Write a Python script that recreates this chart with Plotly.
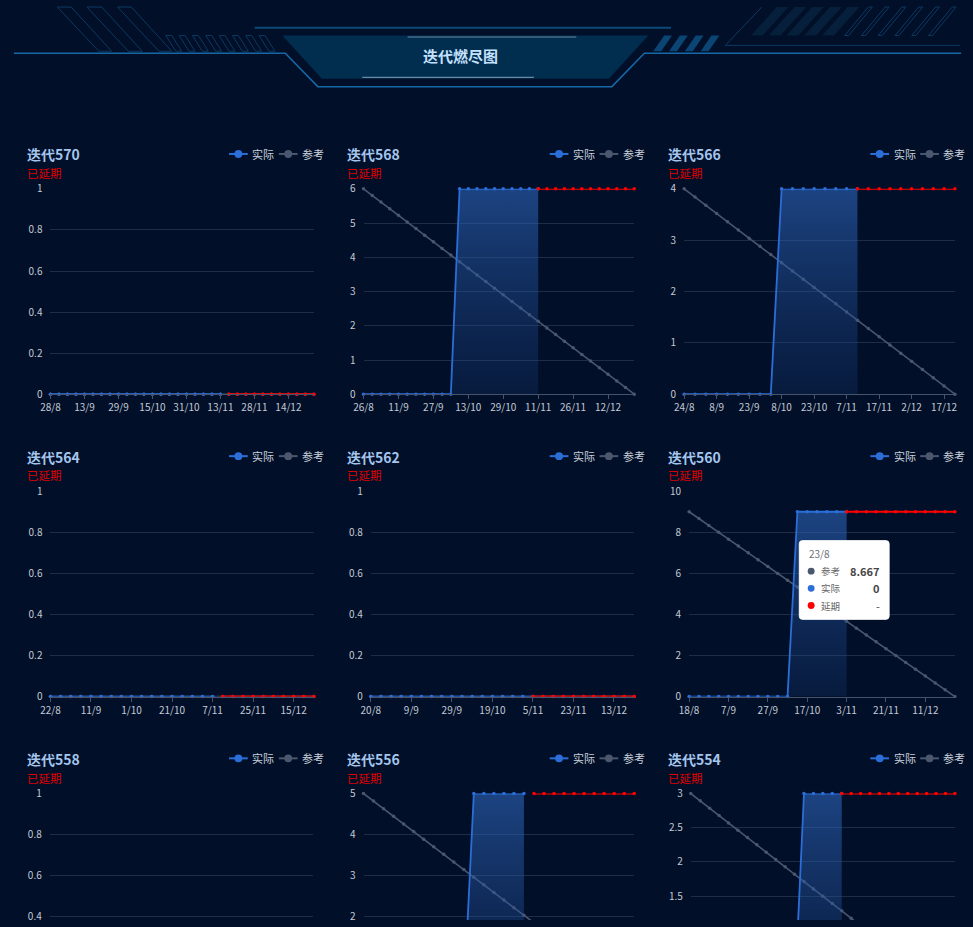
import plotly.graph_objects as go

W, H = 973, 927
BG = "#010f28"
FONT = "Noto Sans CJK SC"
BLUE = "#2b6ed8"
GRAY = "#4a576f"
RED = "#ff0000"
GRID = "#1e2d46"
TICK = "#c3cad6"
N = None

chart_titles = ["迭代570", "迭代568", "迭代566", "迭代564", "迭代562",
                "迭代560", "迭代558", "迭代556", "迭代554"]
status_label = "已延期"
legend_labels = ["实际", "参考"]
tooltip_labels = ["参考", "实际", "延期"]
tooltip_date = "23/8"

# ---- 迭代570 ----
xlabels_570 = ["28/8", "13/9", "29/9", "15/10", "31/10", "13/11", "28/11", "14/12"]
ref_570 = [0, 0, 0, 0, 0, 0, 0, 0, 0, 0, 0, 0, 0, 0, 0, 0,
           0, 0, 0, 0, 0, 0, 0, 0, 0, 0, 0, 0, 0, 0, 0, 0]
act_570 = [0] * 21 + [N] * 11
del_570 = [N] * 21 + [0] * 11

# ---- 迭代568 ----
xlabels_568 = ["26/8", "11/9", "27/9", "13/10", "29/10", "11/11", "26/11", "12/12"]
ref_568 = [6, 5.806, 5.613, 5.419, 5.226, 5.032, 4.839, 4.645, 4.452, 4.258,
           4.065, 3.871, 3.677, 3.484, 3.290, 3.097, 2.903, 2.710, 2.516, 2.323,
           2.129, 1.935, 1.742, 1.548, 1.355, 1.161, 0.968, 0.774, 0.581, 0.387,
           0.194, 0]
act_568 = [0] * 11 + [6] * 10 + [N] * 11
del_568 = [N] * 20 + [6] * 12

# ---- 迭代566 ----
xlabels_566 = ["24/8", "8/9", "23/9", "8/10", "23/10", "7/11", "17/11", "2/12", "17/12"]
ref_566 = [4, 3.84, 3.68, 3.52, 3.36, 3.2, 3.04, 2.88, 2.72, 2.56, 2.4, 2.24, 2.08,
           1.92, 1.76, 1.6, 1.44, 1.28, 1.12, 0.96, 0.8, 0.64, 0.48, 0.32, 0.16, 0]
act_566 = [0] * 9 + [4] * 8 + [N] * 9
del_566 = [N] * 16 + [4] * 10

# ---- 迭代564 ----
xlabels_564 = ["22/8", "11/9", "1/10", "21/10", "7/11", "25/11", "15/12"]
ref_564 = [0, 0, 0, 0, 0, 0, 0, 0, 0, 0, 0, 0, 0, 0,
           0, 0, 0, 0, 0, 0, 0, 0, 0, 0, 0, 0, 0]
act_564 = [0] * 17 + [N] * 10
del_564 = [N] * 17 + [0] * 10

# ---- 迭代562 ----
xlabels_562 = ["20/8", "9/9", "29/9", "19/10", "5/11", "23/11", "13/12"]
ref_562 = [0, 0, 0, 0, 0, 0, 0, 0, 0, 0, 0, 0, 0, 0,
           0, 0, 0, 0, 0, 0, 0, 0, 0, 0, 0, 0, 0]
act_562 = [0] * 17 + [N] * 10
del_562 = [N] * 16 + [0] * 11

# ---- 迭代560 ----
xlabels_560 = ["18/8", "7/9", "27/9", "17/10", "3/11", "21/11", "11/12"]
ref_560 = [9, 8.667, 8.333, 8, 7.667, 7.333, 7, 6.667, 6.333, 6, 5.667, 5.333,
           5, 4.667, 4.333, 4, 3.667, 3.333, 3, 2.667, 2.333, 2, 1.667, 1.333,
           1, 0.667, 0.333, 0]
act_560 = [0] * 11 + [9] * 6 + [N] * 11
del_560 = [N] * 16 + [9] * 12

# ---- 迭代558 ----
xlabels_558 = []
ref_558 = [0, 0, 0, 0, 0, 0, 0, 0, 0, 0, 0, 0, 0, 0,
           0, 0, 0, 0, 0, 0, 0, 0, 0, 0, 0, 0, 0]
act_558 = [0] * 17 + [N] * 10
del_558 = [N] * 17 + [0] * 10

# ---- 迭代556 ----
xlabels_556 = []
ref_556 = [5, 4.815, 4.630, 4.444, 4.259, 4.074, 3.889, 3.704, 3.519, 3.333,
           3.148, 2.963, 2.778, 2.593, 2.407, 2.222, 2.037, 1.852, 1.667, 1.481,
           1.296, 1.111, 0.926, 0.741, 0.556, 0.370, 0.185, 0]
act_556 = [0] * 11 + [5] * 6 + [N] * 11
del_556 = [N] * 17 + [5] * 11

# ---- 迭代554 ----
xlabels_554 = []
ref_554 = [3, 2.893, 2.786, 2.679, 2.571, 2.464, 2.357, 2.25, 2.143, 2.036,
           1.929, 1.821, 1.714, 1.607, 1.5, 1.393, 1.286, 1.179, 1.071, 0.964,
           0.857, 0.75, 0.643, 0.536, 0.429, 0.321, 0.214, 0.107, 0]
act_554 = [0] * 12 + [3] * 5 + [N] * 12
del_554 = [N] * 16 + [3] * 13

charts = [
    dict(ref=ref_570, act=act_570, dly=del_570, labels=xlabels_570, step=4, ymax=1, dtick=0.2),
    dict(ref=ref_568, act=act_568, dly=del_568, labels=xlabels_568, step=4, ymax=6, dtick=1),
    dict(ref=ref_566, act=act_566, dly=del_566, labels=xlabels_566, step=3, ymax=4, dtick=1),
    dict(ref=ref_564, act=act_564, dly=del_564, labels=xlabels_564, step=4, ymax=1, dtick=0.2),
    dict(ref=ref_562, act=act_562, dly=del_562, labels=xlabels_562, step=4, ymax=1, dtick=0.2),
    dict(ref=ref_560, act=act_560, dly=del_560, labels=xlabels_560, step=4, ymax=10, dtick=2),
    dict(ref=ref_558, act=act_558, dly=del_558, labels=xlabels_558, step=4, ymax=1, dtick=0.2),
    dict(ref=ref_556, act=act_556, dly=del_556, labels=xlabels_556, step=4, ymax=5, dtick=1),
    dict(ref=ref_554, act=act_554, dly=del_554, labels=xlabels_554, step=4, ymax=3, dtick=0.5),
]

# ---------------- layout geometry (pixels) ----------------
panel_off = [(0, 0), (325, 0), (650, 0),
             (0, 307.5), (325, 307.5), (650, 307.5),
             (0, 615), (325, 615), (650, 615)]
plot_x = [(41, 308), (358.3, 632.7), (683.3, 957.7),
          (41, 308), (365.7, 632.7), (688.3, 957.7),
          (40.3, 307), (358.3, 632.7), (690, 957.7)]
row_top = [183, 490.7, 798.3]
PLOT_H = 209.0


def px(x):
    return x / W


def py(y):
    return 1 - y / H


fig = go.Figure()
layout_axes = {}
shapes = []
annotations = []

for i, c in enumerate(charts):
    row = i // 3
    sfx = "" if i == 0 else str(i + 1)
    xs = list(range(len(c["ref"])))
    top = row_top[row]
    bottom = min(top + PLOT_H, H)
    ymin = c["ymax"] - c["ymax"] * (bottom - top) / PLOT_H
    common = dict(xaxis="x" + sfx, yaxis="y" + sfx, showlegend=False,
                  hoverinfo="skip", cliponaxis=False)
    fig.add_trace(go.Scatter(x=xs, y=c["ref"], mode="lines+markers",
                             line=dict(color=GRAY, width=1.6),
                             marker=dict(color=GRAY, size=3.5), **common))
    fig.add_trace(go.Scatter(x=xs, y=c["act"], mode="lines+markers",
                             line=dict(color=BLUE, width=1.8),
                             marker=dict(color=BLUE, size=3.5),
                             fill="tozeroy",
                             fillgradient=dict(type="vertical",
                                               colorscale=[[0, "rgba(30,70,140,0.22)"],
                                                           [1, "rgba(45,100,185,0.62)"]]),
                             **common))
    fig.add_trace(go.Scatter(x=xs, y=c["dly"], mode="lines+markers",
                             line=dict(color=RED, width=2),
                             marker=dict(color=RED, size=3.5), **common))

    x0, x1 = plot_x[i]
    is_bottom = row == 2
    layout_axes["xaxis" + sfx] = dict(
        domain=[px(x0), px(x1)], anchor="y" + sfx,
        range=[0, len(xs) - 1], showgrid=False, zeroline=False,
        showline=not is_bottom, linecolor="#46536b", linewidth=1,
        ticks="" if is_bottom else "outside", ticklen=4, tickcolor="#46536b",
        tickvals=[k * c["step"] for k in range(len(c["labels"]))],
        ticktext=c["labels"], showticklabels=not is_bottom,
        tickfont=dict(family=FONT, size=10, color=TICK), fixedrange=True)
    layout_axes["yaxis" + sfx] = dict(
        domain=[max(py(bottom), 0), py(top)], anchor="x" + sfx,
        range=[ymin, c["ymax"]], tick0=0, dtick=c["dtick"],
        showgrid=True, gridcolor=GRID, gridwidth=1, zeroline=False,
        showline=False, ticks="", ticklabelstandoff=7,
        tickfont=dict(family=FONT, size=10, color=TICK), fixedrange=True)

    # panel title / status / legend
    ox, oy = panel_off[i]
    annotations.append(dict(x=px(ox + 15), y=py(oy + 148), xref="paper", yref="paper",
                            text="<b>" + chart_titles[i] + "</b>", showarrow=False,
                            xanchor="left", yanchor="middle",
                            font=dict(family=FONT, size=14, color="#a4c6ee")))
    annotations.append(dict(x=px(ox + 15), y=py(oy + 167), xref="paper", yref="paper",
                            text=status_label, showarrow=False,
                            xanchor="left", yanchor="middle",
                            font=dict(family=FONT, size=11.5, color="#e00000")))
    ly = oy + 147.5
    for k, (col, lab) in enumerate(zip([BLUE, GRAY], legend_labels)):
        lx = ox + 222 + k * 50.5
        shapes.append(dict(type="line", xref="paper", yref="paper",
                           x0=px(lx), x1=px(lx + 19), y0=py(ly), y1=py(ly),
                           line=dict(color=col, width=2), layer="above"))
        shapes.append(dict(type="circle", xref="paper", yref="paper",
                           x0=px(lx + 9.5 - 4), x1=px(lx + 9.5 + 4),
                           y0=py(ly + 4), y1=py(ly - 4),
                           fillcolor=col, line=dict(width=0), layer="above"))
        annotations.append(dict(x=px(lx + 21.5), y=py(ly), xref="paper", yref="paper",
                                text=lab, showarrow=False, xanchor="left", yanchor="middle",
                                font=dict(family=FONT, size=11, color="#c8d0dc")))


# ---------------- header decoration ----------------
def poly(points, fill=None, color=None, width=1.0, close=True):
    path = "M " + " L ".join(f"{px(x):.5f},{py(y):.5f}" for x, y in points)
    if close:
        path += " Z"
    d = dict(type="path", xref="paper", yref="paper", path=path, layer="above",
             line=dict(color=color if color else "rgba(0,0,0,0)", width=width if color else 0))
    if fill:
        d["fillcolor"] = fill
    return d


DECO = "#0c3a63"
for a, b in [(48, 62), (78, 93), (109, 123)]:
    shapes.append(poly([(a, -2), (b, -2), (b + 41, 43), (a + 42, 43)], color=DECO, width=1))
for k in range(8):
    a = 158 + 13.5 * k
    shapes.append(poly([(a, 27), (a + 6, 27), (a + 16, 43), (a + 10, 43)], color=DECO, width=1))
for k in range(4):
    a = 652 + 16 * k
    shapes.append(poly([(a + 11, 27), (a + 19, 27), (a + 8, 43), (a, 43)], fill="#0b4574"))
for k in range(5):
    a = 751 + 18 * k
    shapes.append(poly([(a + 26, -2), (a + 38, -2), (a + 12, 27), (a, 27)], fill="#061f3a"))
for k in range(6):
    a = 846 + 17 * k
    shapes.append(poly([(a + 24, -2), (a + 28, -2), (a + 4, 27), (a, 27)], color=DECO, width=1))
shapes.append(poly([(762, -2), (725, 37), (963, 37)], color=DECO, width=1, close=False))
shapes.append(poly([(248, 19), (670, 19)], color="#0b4a78", width=2, close=False))
shapes.append(poly([(276, 27), (647, 27), (607, 71), (316, 71)], fill="#012d4f"))
shapes.append(poly([(403, 28.5), (574, 28.5)], color="rgba(190,215,235,0.55)", width=1.2, close=False))
shapes.append(poly([(357, 69.5), (531, 69.5)], color="rgba(190,215,235,0.55)", width=1.2, close=False))
shapes.append(poly([(4, 45), (279, 45), (312, 79), (610, 79), (643, 45), (964, 45)],
                   color="#1668a6", width=1.5, close=False))

annotations.append(dict(x=px(457), y=py(47), xref="paper", yref="paper",
                        text="<b>迭代燃尽图</b>", showarrow=False,
                        xanchor="center", yanchor="middle",
                        font=dict(family=FONT, size=15, color="#c4e2ff")))

# ---------------- frozen tooltip on 迭代560 ----------------
tip_idx = 1
tip_vals = [ref_560[tip_idx], act_560[tip_idx], del_560[tip_idx]]


def fmt(v):
    if v is None:
        return "-"
    return f"{v:.3f}".rstrip("0").rstrip(".") if v != int(v) else str(int(v))


bx0, by0, bx1, by1, r = 800, 541, 891, 621, 3
shapes.append(dict(type="path", xref="paper", yref="paper", layer="above",
                   path=(f"M {px(bx0 + r)},{py(by0)} L {px(bx1 - r)},{py(by0)} "
                         f"Q {px(bx1)},{py(by0)} {px(bx1)},{py(by0 + r)} "
                         f"L {px(bx1)},{py(by1 - r)} Q {px(bx1)},{py(by1)} {px(bx1 - r)},{py(by1)} "
                         f"L {px(bx0 + r)},{py(by1)} Q {px(bx0)},{py(by1)} {px(bx0)},{py(by1 - r)} "
                         f"L {px(bx0)},{py(by0 + r)} Q {px(bx0)},{py(by0)} {px(bx0 + r)},{py(by0)} Z"),
                   fillcolor="#ffffff", line=dict(color="#ffffff", width=1)))
annotations.append(dict(x=px(808), y=py(554.5), xref="paper", yref="paper",
                        text=tooltip_date, showarrow=False, xanchor="left", yanchor="middle",
                        font=dict(family=FONT, size=10, color="#6e7079")))
for k, (lab, col, v) in enumerate(zip(tooltip_labels, [GRAY, BLUE, RED], tip_vals)):
    ty = 572 + 17.5 * k
    shapes.append(dict(type="circle", xref="paper", yref="paper", layer="above",
                       x0=px(808.5), x1=px(815.5), y0=py(ty + 3.5), y1=py(ty - 3.5),
                       fillcolor=col, line=dict(width=0)))
    annotations.append(dict(x=px(820), y=py(ty), xref="paper", yref="paper",
                            text=lab, showarrow=False, xanchor="left", yanchor="middle",
                            font=dict(family=FONT, size=9.5, color="#666666")))
    annotations.append(dict(x=px(884), y=py(ty), xref="paper", yref="paper",
                            text=("<b>" + fmt(v) + "</b>") if v is not None else fmt(v),
                            showarrow=False, xanchor="right", yanchor="middle",
                            font=dict(family=FONT, size=11, color="#464646")))

fig.update_layout(
    width=W, height=H,
    margin=dict(l=0, r=0, t=0, b=0),
    paper_bgcolor=BG, plot_bgcolor=BG,
    showlegend=False,
    shapes=shapes, annotations=annotations,
    font=dict(family=FONT),
    **layout_axes,
)

fig.write_html(
    "out.html",
    config={"displayModeBar": False},
    post_script=("document.body.style.margin='0';"
                 "document.body.style.overflow='hidden';"
                 "document.body.style.background='" + BG + "';"),
)
